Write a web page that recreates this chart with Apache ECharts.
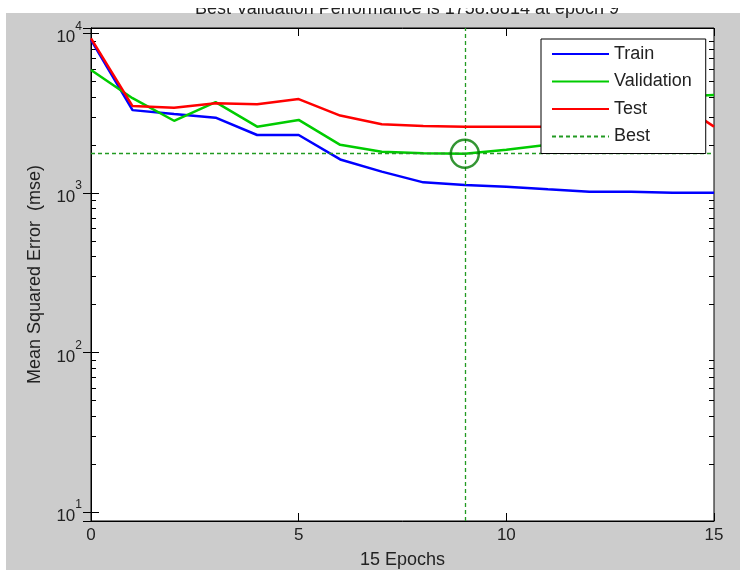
<!DOCTYPE html>
<html>
<head>
<meta charset="utf-8">
<script src="https://cdn.jsdelivr.net/npm/echarts@6/dist/echarts.min.js"></script>
<style>
html,body{margin:0;padding:0;background:#fff;}
#chart{width:740px;height:570px;}
</style>
</head>
<body>
<div id="chart"></div>
<script>
// ---- data ----
const epochs = [0,1,2,3,4,5,6,7,8,9,10,11,12,13,14,15];
const trainPerf = [9100, 3300, 3120, 2960, 2305, 2305, 1620, 1358, 1164, 1122, 1094, 1052, 1016, 1016, 1000, 1000];
const validationPerf = [5890, 3920, 2830, 3700, 2600, 2865, 2000, 1810, 1770, 1758.8814, 1860, 2000, 2400, 2900, 4000, 4100];
const testPerf = [9300, 3500, 3420, 3640, 3590, 3870, 3050, 2690, 2625, 2600, 2600, 2600, 2600, 2650, 3870, 2600];
const bestEpoch = 9;
const bestPerf = 1758.8814;
const yMinorTicks = [20,30,40,50,60,70,80,90,200,300,400,500,600,700,800,900,2000,3000,4000,5000,6000,7000,8000,9000];
const titleText = 'Best Validation Performance is 1758.8814 at epoch 9';
const xName = '15 Epochs';
const yName = 'Mean Squared Error  (mse)';
const seriesNames = ['Train', 'Validation', 'Test', 'Best'];

const FONT = 'Liberation Sans, Arial, sans-serif';
const pair = (arr) => epochs.map((e, i) => [e, arr[i]]);

const chart = echarts.init(document.getElementById('chart'), null, {renderer: 'canvas'});
const yMin = 8.78, yMax = 10795;
const BEST_COLOR = '#229a22';

const option = {
  animation: false,
  backgroundColor: '#cccccc',
  graphic: [
    {type: 'rect', z: -10, shape: {x: 0, y: 0, width: 740, height: 13}, style: {fill: '#ffffff'}},
    {type: 'rect', z: -10, shape: {x: 0, y: 0, width: 6, height: 570}, style: {fill: '#ffffff'}},
    {type: 'rect', z: 100, shape: {x: 0, y: 0, width: 740, height: 8}, style: {fill: '#ffffff'}}
  ],
  title: {
    text: titleText,
    left: 402, top: -5, textAlign: 'center',
    textStyle: {fontFamily: FONT, fontSize: 18, fontWeight: 'normal', color: '#222'}
  },
  grid: {left: 91, right: 26, top: 28, bottom: 49, outerBoundsMode: 'none', containLabel: false, show: true, backgroundColor: '#ffffff', borderColor: '#000', borderWidth: 1},
  legend: {
    data: seriesNames,
    orient: 'vertical',
    left: 541, top: 39, z: 20,
    backgroundColor: '#ffffff', borderColor: '#000', borderWidth: 1,
    padding: [5, 14, 7, 10],
    itemWidth: 57, itemHeight: 20, itemGap: 7.5,
    itemStyle: {opacity: 0},
    textStyle: {fontFamily: FONT, fontSize: 18, color: '#222', lineHeight: 20}
  },
  xAxis: [
    {
      type: 'value', min: 0, max: 15, interval: 5,
      name: xName, nameLocation: 'middle', nameGap: 30,
      nameTextStyle: {fontFamily: FONT, fontSize: 18, color: '#222'},
      axisLine: {show: true, lineStyle: {color: '#000', width: 1}},
      axisTick: {show: true, inside: true, length: 8, lineStyle: {color: '#000'}},
      axisLabel: {fontFamily: FONT, fontSize: 17, color: '#222', margin: 6},
      splitLine: {show: false}
    },
    {
      type: 'value', min: 0, max: 15, interval: 5, position: 'top',
      axisLine: {show: true, lineStyle: {color: '#000', width: 1}},
      axisTick: {show: true, inside: true, length: 8, lineStyle: {color: '#000'}},
      axisLabel: {show: false},
      splitLine: {show: false}
    }
  ],
  yAxis: [
    {
      type: 'log', logBase: 10, min: yMin, max: yMax,
      name: yName, nameLocation: 'middle', nameGap: 47,
      nameTextStyle: {fontFamily: FONT, fontSize: 18, color: '#222'},
      axisLine: {show: true, lineStyle: {color: '#000', width: 1}},
      axisTick: {show: true, inside: true, length: 8, lineStyle: {color: '#000'}},
      axisLabel: {
        showMinLabel: false, showMaxLabel: false, margin: 9,
        formatter: (v) => '{b|10}{s|' + Math.round(Math.log10(v)) + '}',
        rich: {
          b: {fontFamily: FONT, fontSize: 17, color: '#222', lineHeight: 26, verticalAlign: 'bottom'},
          s: {fontFamily: FONT, fontSize: 12, color: '#222', lineHeight: 26, verticalAlign: 'top'}
        }
      },
      splitLine: {show: false}
    },
    {
      type: 'log', logBase: 10, min: yMin, max: yMax, position: 'right',
      axisLine: {show: true, lineStyle: {color: '#000', width: 1}},
      axisTick: {show: true, inside: true, length: 8, lineStyle: {color: '#000'}},
      axisLabel: {show: false},
      splitLine: {show: false}
    }
  ],
  series: [
    {
      name: 'minorTicks', type: 'custom', silent: true, clip: false,
      data: yMinorTicks.map(v => [0, v]),
      renderItem: (params, api) => {
        const p = api.coord([0, api.value(1)]);
        const cs = params.coordSys;
        const y = Math.round(p[1]) + 0.5;
        return {
          type: 'group',
          children: [
            {type: 'line', shape: {x1: cs.x, y1: y, x2: cs.x + 5, y2: y}, style: {stroke: '#000', lineWidth: 1}},
            {type: 'line', shape: {x1: cs.x + cs.width, y1: y, x2: cs.x + cs.width - 5, y2: y}, style: {stroke: '#000', lineWidth: 1}}
          ]
        };
      }
    },
    {name: 'Train', type: 'line', data: pair(trainPerf), symbol: 'none', lineStyle: {color: '#0000ff', width: 2.5}, itemStyle: {color: '#0000ff'}, z: 3},
    {name: 'Validation', type: 'line', data: pair(validationPerf), symbol: 'none', lineStyle: {color: '#00cc00', width: 2.5}, itemStyle: {color: '#00cc00'}, z: 4},
    {name: 'Test', type: 'line', data: pair(testPerf), symbol: 'none', lineStyle: {color: '#ff0000', width: 2.5}, itemStyle: {color: '#ff0000'}, z: 5},
    {
      name: 'Best', type: 'line', data: [], symbol: 'none',
      lineStyle: {color: BEST_COLOR, width: 1.5, type: [4, 3]}, itemStyle: {color: BEST_COLOR}, z: 2,
      markLine: {
        silent: true, symbol: 'none', label: {show: false},
        lineStyle: {color: BEST_COLOR, width: 1.3, type: [4, 3]},
        data: [{xAxis: bestEpoch}, {yAxis: bestPerf}]
      }
    },
    {
      name: 'bestPoint', type: 'scatter', data: [[bestEpoch, bestPerf]], symbol: 'circle', symbolSize: 28,
      itemStyle: {color: 'rgba(0,0,0,0)', borderColor: '#007a00', borderWidth: 2.5}, z: 6, silent: true
    }
  ]
};
chart.setOption(option);
</script>
</body>
</html>
